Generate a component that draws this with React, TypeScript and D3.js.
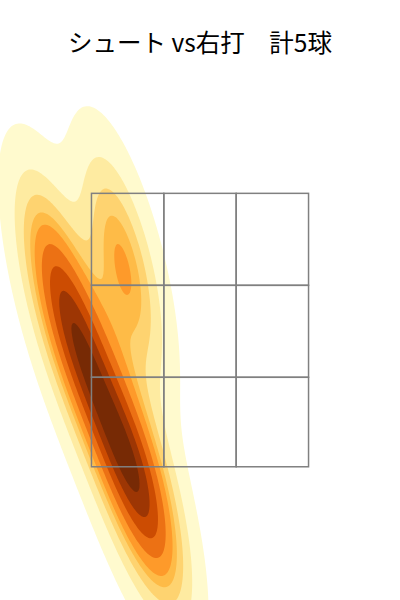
import React, { useMemo } from 'react';
import * as d3 from 'd3';

const W = 400;
const H = 600;
const TITLE = 'シュート vs右打　計5球';

// Pitch locations (cm): horizontal from plate centre, height above ground
const pitchX = [-28.9, -15.2, -22.7, -15.6, -9.6];
const pitchY = [81.6, 85.8, 66.5, 46.8, 36.7];

// Strike zone edges (cm)
const zoneXEdges = [-21.6, -7.2, 7.2, 21.6];
const zoneYEdges = [100, 81.5, 63.0, 45];

// Axis limits (cm)
const xLim = [-39.8, 39.8];
const yLim = [18.2, 122.8];

const LEVELS = 10;
const THRESH = 0.05;
const GRID = 200;
const CUT = 3;
const YLORBR = ['#ffffe5', '#fff7bc', '#fee391', '#fec44f', '#fe9929', '#ec7014', '#cc4c02', '#993404', '#662506'];

function kde(xs: number[], ys: number[]) {
  const n = xs.length;
  const mx = d3.mean(xs)!;
  const my = d3.mean(ys)!;
  let sxx = 0, syy = 0, sxy = 0;
  for (let i = 0; i < n; i++) {
    sxx += (xs[i] - mx) ** 2;
    syy += (ys[i] - my) ** 2;
    sxy += (xs[i] - mx) * (ys[i] - my);
  }
  const f2 = Math.pow(n, -2 / 6);
  const a = (sxx / (n - 1)) * f2;
  const d = (syy / (n - 1)) * f2;
  const b = (sxy / (n - 1)) * f2;
  const det = a * d - b * b;
  const ia = d / det, id = a / det, ib = -b / det;
  const norm = 1 / (n * 2 * Math.PI * Math.sqrt(det));
  const bwx = Math.sqrt(a), bwy = Math.sqrt(d);
  const x0 = d3.min(xs)! - CUT * bwx, x1 = d3.max(xs)! + CUT * bwx;
  const y0 = d3.min(ys)! - CUT * bwy, y1 = d3.max(ys)! + CUT * bwy;
  const gx = d3.range(GRID).map((i) => x0 + ((x1 - x0) * i) / (GRID - 1));
  const gy = d3.range(GRID).map((j) => y0 + ((y1 - y0) * j) / (GRID - 1));
  const values = new Float64Array(GRID * GRID);
  for (let j = 0; j < GRID; j++) {
    for (let i = 0; i < GRID; i++) {
      let s = 0;
      for (let k = 0; k < n; k++) {
        const dx = gx[i] - xs[k], dy = gy[j] - ys[k];
        s += Math.exp(-0.5 * (ia * dx * dx + 2 * ib * dx * dy + id * dy * dy));
      }
      values[j * GRID + i] = s * norm;
    }
  }
  return { gx, gy, values };
}

function isoLevels(values: Float64Array) {
  const sorted = Array.from(values).sort((p, q) => q - p);
  const total = d3.sum(sorted);
  const cum: number[] = [];
  let acc = 0;
  for (const v of sorted) { acc += v; cum.push(acc / total); }
  const props = d3.range(LEVELS).map((i) => THRESH + ((1 - THRESH) * i) / (LEVELS - 1));
  return props.map((p) => {
    const target = 1 - p;
    let idx = d3.bisectLeft(cum, target);
    idx = Math.min(Math.max(idx, 0), sorted.length - 1);
    return sorted[idx];
  });
}

export default function App() {
  const x = d3.scaleLinear().domain(xLim).range([0, W]);
  const y = d3.scaleLinear().domain(yLim).range([H, 80]);

  const { paths, fills } = useMemo(() => {
    const { gx, gy, values } = kde(pitchX, pitchY);
    const levels = isoLevels(values);
    const dxg = gx[1] - gx[0], dyg = gy[1] - gy[0];
    const proj = d3.geoTransform({
      point(px: number, py: number) {
        this.stream.point(x(gx[0] + (px - 0.5) * dxg), y(gy[0] + (py - 0.5) * dyg));
      },
    });
    const path = d3.geoPath(proj);
    const bandLevels = levels.slice(0, LEVELS - 1);
    const contours = d3.contours().size([GRID, GRID]).thresholds(bandLevels)(Array.from(values));
    const cmap = d3.scaleLinear<string>().domain(d3.range(9).map((i) => i / 8)).range(YLORBR).interpolate(d3.interpolateRgb);
    const lo = levels[0], hi = levels[LEVELS - 1];
    const fills = bandLevels.map((l, k) => cmap(((l + levels[k + 1]) / 2 - lo) / (hi - lo)));
    return { paths: contours.map((c) => path(c as any) || ''), fills };
  }, []);

  const cells: { x0: number; x1: number; y0: number; y1: number }[] = [];
  for (let r = 0; r < 3; r++) for (let c = 0; c < 3; c++) cells.push({ x0: zoneXEdges[c], x1: zoneXEdges[c + 1], y0: zoneYEdges[r], y1: zoneYEdges[r + 1] });

  return (
    <svg width={W} height={H} style={{ position: 'fixed', left: 0, top: 0, background: '#fff' }}>
      <defs>
        <clipPath id="ax"><rect x={0} y={80} width={W} height={H - 80} /></clipPath>
      </defs>
      <rect width={W} height={H} fill="#fff" />
      <g clipPath="url(#ax)">
        {paths.map((d, i) => <path key={i} d={d} fill={fills[i]} />)}
      </g>
      {cells.map((c, i) => (
        <rect key={i} x={x(c.x0)} y={y(c.y0)} width={x(c.x1) - x(c.x0)} height={y(c.y1) - y(c.y0)} fill="none" stroke="#808080" strokeWidth={1.5} />
      ))}
      <text x={200} y={52} textAnchor="middle" fontSize={24.5} fontFamily="'Noto Sans CJK JP', 'Noto Sans', sans-serif" fill="#000">{TITLE}</text>
    </svg>
  );
}
